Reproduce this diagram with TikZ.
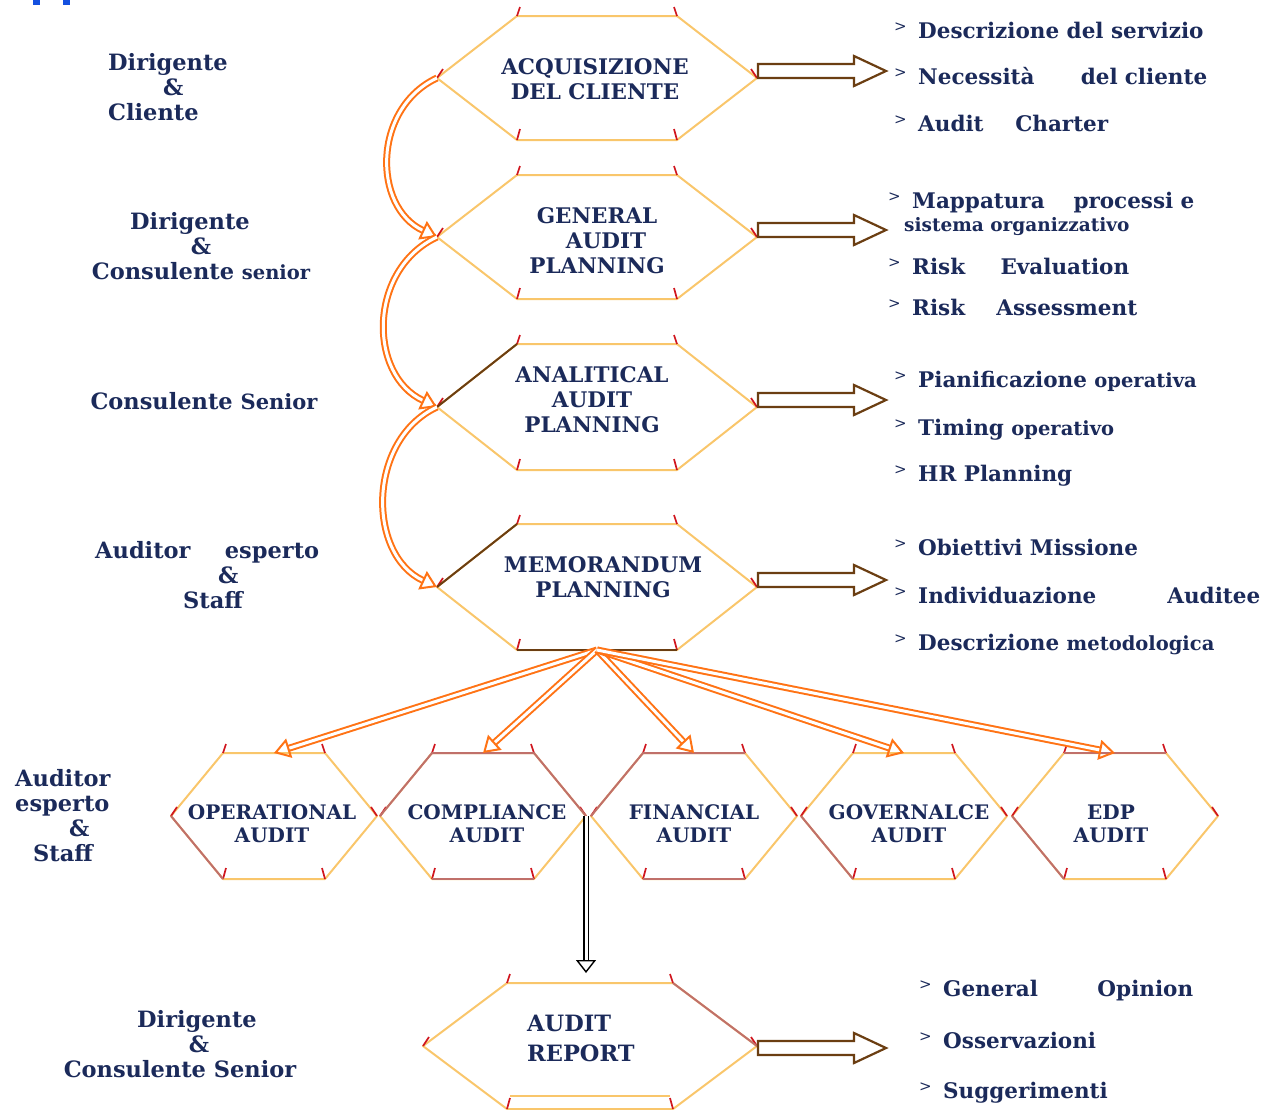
\documentclass[tikz,border=0pt]{standalone}
\usepackage{fontspec}
\setmainfont{DejaVu Serif}
\usetikzlibrary{arrows.meta}
\definecolor{navy}{HTML}{1B2A5A}
\definecolor{hexline}{HTML}{F9C66B}
\definecolor{rosy}{HTML}{C0706A}
\definecolor{bark}{HTML}{6B3E12}
\definecolor{tickred}{HTML}{D0161E}
\definecolor{fanorange}{HTML}{FF7315}
\definecolor{titleblue}{HTML}{1450E0}

% small ">" in front of each item
\newcommand{\mk}{\makebox[24pt][l]{\raisebox{7pt}{\mdseries\fontsize{15}{15}\selectfont>}}}

% hexagon: name, cx, cy, half width, half top edge, half height
\newcommand{\hexa}[6]{%
  \coordinate (#1-w) at (#2-#4,#3);
  \coordinate (#1-nw) at (#2-#5,#3-#6);
  \coordinate (#1-ne) at (#2+#5,#3-#6);
  \coordinate (#1-e) at (#2+#4,#3);
  \coordinate (#1-se) at (#2+#5,#3+#6);
  \coordinate (#1-sw) at (#2-#5,#3+#6);
  \coordinate (#1-n) at (#2,#3-#6);
  \coordinate (#1-s) at (#2,#3+#6);
  \draw[hexedge] (#1-w) -- (#1-nw) -- (#1-ne) -- (#1-e) -- (#1-se) -- (#1-sw) -- cycle;
  \foreach \v/\dx/\dy in {w/6/-9,nw/3/-9,ne/-3/-9,e/-6/-9,se/-3/-11,sw/3/-11}
    \draw[redtick] (#1-\v) -- ++(\dx,\dy);
}

% brown outlined block arrow, starting at a vertex
\newcommand{\outarrow}[2]{%
  \draw[blockarrow] (#1) ++(1,#2) -- ++(96,0) -- ++(0,8) -- ++(32,-15)
    -- ++(-32,-15) -- ++(0,8) -- ++(-96,0) -- cycle;
}

\begin{document}
\begin{tikzpicture}[x=1pt,y=-1pt,
    every node/.style={inner sep=0pt,text=navy},
    hexedge/.style={draw=hexline,line width=2pt,line join=round},
    rosyedge/.style={draw=rosy,line width=2pt},
    barkedge/.style={draw=bark,line width=2pt},
    redtick/.style={draw=tickred,line width=1.7pt},
    hextxt/.style={align=center,font=\bfseries\fontsize{21.5}{25}\selectfont},
    smalltxt/.style={align=center,font=\bfseries\fontsize{20}{23}\selectfont},
    role/.style={align=center,font=\bfseries\fontsize{22.5}{25}\selectfont},
    itemtxt/.style={anchor=base west,align=left,font=\bfseries\fontsize{21.5}{24}\selectfont},
    orarrow/.style={draw=fanorange,double=white,line width=2pt,double distance=3pt,
      -{Triangle[open,length=16pt,width=20pt]}},
    downarrow/.style={draw=black,double=white,line width=1.4pt,double distance=3pt,
      -{Triangle[open,length=13pt,width=20pt]},shorten >=10pt},
    blockarrow/.style={draw=bark,fill=white,line width=2.2pt}]
  \useasboundingbox (0,0) rectangle (1266,1109);

  % bits of the cut title
  \fill[titleblue] (33,0) rectangle (40,5);
  \fill[titleblue] (63,0) rectangle (70,5);

  % main column
  \hexa{A}{597}{78}{160}{80}{62}
  \hexa{G}{597}{237}{160}{80}{62}
  \hexa{N}{597}{407}{160}{80}{63}
  \hexa{M}{597}{587}{160}{80}{63}
  \hexa{R}{590}{1046}{167}{83}{63}
  \draw[hexedge] (510,1096) -- (670,1096);

  % second row
  \hexa{op}{274}{816}{103}{51}{63}
  \hexa{co}{483}{816}{103}{51}{63}
  \hexa{fi}{694}{816}{103}{51}{63}
  \hexa{go}{904}{816}{103}{51}{63}
  \hexa{ed}{1115}{816}{103}{51}{63}

  % edges in other colours
  \draw[barkedge] (N-w) -- (N-nw);
  \draw[barkedge] (M-w) -- (M-nw);
  \draw[barkedge] (M-sw) -- (M-se);
  \draw[rosyedge] (op-w) -- (op-sw);
  \draw[rosyedge] (co-w) -- (co-nw) -- (co-ne) -- (co-e);
  \draw[rosyedge] (co-sw) -- (co-se);
  \draw[rosyedge] (fi-w) -- (fi-nw) -- (fi-ne);
  \draw[rosyedge] (fi-sw) -- (fi-se);
  \draw[rosyedge] (go-w) -- (go-sw);
  \draw[rosyedge] (ed-nw) -- (ed-ne);
  \draw[rosyedge] (ed-w) -- (ed-sw);
  \draw[rosyedge] (R-ne) -- (R-e);

  % texts in the hexagons
  \node[hextxt] (acq) at (595,79) {ACQUISIZIONE\\DEL CLIENTE};
  \node[hextxt] (gen) at (597,241) {GENERAL\\\hspace*{18pt}AUDIT\\PLANNING};
  \node[hextxt] (ana) at (592,400) {ANALITICAL\\AUDIT\\PLANNING};
  \node[hextxt] (memo) at (603,577) {MEMORANDUM\\PLANNING};
  \node[hextxt,align=left,anchor=west,font=\bfseries\fontsize{22.5}{30}\selectfont]
    (rep) at (527,1038) {AUDIT\\REPORT};
  \foreach \n/\x/\t in {oper/272/OPERATIONAL,comp/487/COMPLIANCE,fin/694/FINANCIAL,
      gov/909/GOVERNALCE,edp/1111/EDP}
    \node[smalltxt] (\n) at (\x,824) {\t\\AUDIT};

  % who does it
  \node[role,align=left,anchor=west] (who1) at (108,87) {Dirigente\\\hspace*{55pt}\&\\Cliente};
  \node[role] (who2) at (201,246) {Dirigente\hspace*{22pt}\\\&\hspace*{18pt}\\Consulente {\fontsize{19.5}{25}\selectfont senior}};
  \node[role] (who3) at (204,401) {Consulente {\fontsize{21}{25}\selectfont Senior}};
  \node[role,align=left,anchor=west,text width=224pt] (who4) at (95,575)
    {Auditor\hfill esperto\\\hspace*{123pt}\&\\\hspace*{88pt}Staff};
  \node[role,align=left,anchor=west] (who5) at (15,816)
    {Auditor\\esperto\\\hspace*{54pt}\&\\\hspace*{18pt}Staff};
  \node[role] (who6) at (180,1044) {\hspace*{34pt}Dirigente\\\hspace*{38pt}\&\\Consulente Senior};

  % what comes out
  \node[itemtxt] (out1) at (894,38) {\mk Descrizione del servizio};
  \node[itemtxt,text width=313pt] (out2) at (894,84) {\mk Necessità\hfill del cliente};
  \node[itemtxt,text width=214pt] (out3) at (894,131) {\mk Audit\hfill Charter};
  \node[itemtxt,text width=306pt] (out4) at (888,208) {\mk Mappatura\hfill processi e};
  \node[itemtxt,font=\bfseries\fontsize{18.5}{20}\selectfont] (out5) at (904,231) {sistema organizzativo};
  \node[itemtxt,text width=241pt] (out6) at (888,274) {\mk Risk\hfill Evaluation};
  \node[itemtxt,text width=249pt] (out7) at (888,315) {\mk Risk\hfill Assessment};
  \node[itemtxt] (out8) at (894,387) {\mk Pianificazione {\fontsize{19.5}{24}\selectfont operativa}};
  \node[itemtxt] (out9) at (894,435) {\mk Timing {\fontsize{19.5}{24}\selectfont operativo}};
  \node[itemtxt] (out10) at (894,481) {\mk HR Planning};
  \node[itemtxt] (out11) at (894,555) {\mk Obiettivi Missione};
  \node[itemtxt,text width=366pt] (out12) at (894,603) {\mk Individuazione\hfill Auditee};
  \node[itemtxt] (out13) at (894,650) {\mk Descrizione {\fontsize{19.5}{24}\selectfont metodologica}};
  \node[itemtxt,text width=274pt] (out14) at (919,996) {\mk General\hfill Opinion};
  \node[itemtxt] (out15) at (919,1048) {\mk Osservazioni};
  \node[itemtxt] (out16) at (919,1098) {\mk Suggerimenti};

  % block arrows to the outputs
  \outarrow{A-e}{0}
  \outarrow{G-e}{0}
  \outarrow{N-e}{0}
  \outarrow{M-e}{0}
  \outarrow{R-e}{9}

  % steps of the main column
  \draw[orarrow] (A-w) to[out=205,in=155,looseness=1.15] (G-w);
  \draw[orarrow] (G-w) to[out=205,in=155,looseness=1.15] (N-w);
  \draw[orarrow] (N-w) to[out=205,in=155,looseness=1.1] (M-w);

  % memorandum to the single audits
  \foreach \t in {op,co,fi,go,ed}
    \draw[orarrow] (M-s) -- (\t-n);

  \draw[downarrow] (co-e) -- (co-e |- R-n);
\end{tikzpicture}
\end{document}
